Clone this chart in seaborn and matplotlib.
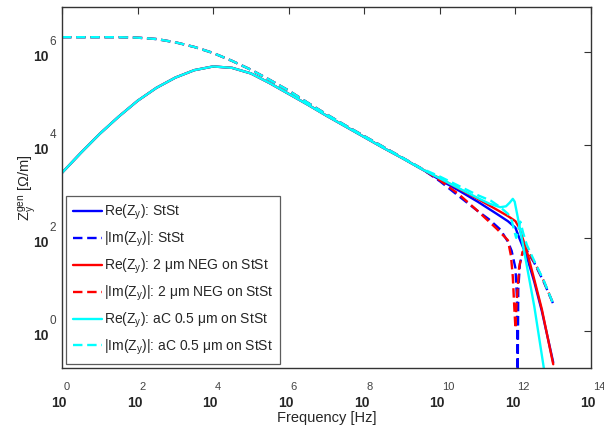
import numpy as np
import matplotlib
matplotlib.use("Agg")
import matplotlib.pyplot as plt
import seaborn as sns

# log10 of frequency [Hz] and log10 of |Z| [Ohm/m]
f_low = [0, 0.5, 1, 1.5, 2, 2.5, 3, 3.5, 4, 4.5, 5, 5.5, 6, 6.5, 7, 7.5, 8, 8.5, 9, 9.5]
re_low = [3.40, 3.83, 4.24, 4.61, 4.95, 5.23, 5.45, 5.61, 5.69, 5.66, 5.54, 5.33,
          5.10, 4.87, 4.63, 4.40, 4.17, 3.94, 3.72, 3.49]
im_low = [6.32, 6.32, 6.32, 6.32, 6.31, 6.28, 6.21, 6.11, 5.98, 5.81, 5.62, 5.40,
          5.17, 4.91, 4.66, 4.42, 4.19, 3.96, 3.73, 3.50]

# high-frequency tails, one per series
f_re_stst = [10, 10.5, 11, 11.5, 11.8, 12.0, 12.1, 12.3, 12.5, 12.7, 13.0]
re_stst = [3.25, 3.02, 2.78, 2.52, 2.36, 2.22, 2.00, 1.60, 1.05, 0.42, -0.68]

f_im_stst = [10, 10.5, 11, 11.3, 11.6, 11.8, 11.9, 12.0, 12.04, 12.06, 12.075,
             12.12, 12.2, 12.3, 12.5, 12.75, 13.0]
im_stst = [3.22, 2.90, 2.58, 2.40, 2.18, 1.92, 1.72, 1.35, 0.7, -1.0, 0.9,
           1.45, 1.70, 1.73, 1.46, 1.05, 0.58]

f_re_neg = [10, 10.5, 11, 11.5, 11.8, 12.0, 12.1, 12.3, 12.5, 12.7, 13.0]
re_neg = [3.28, 3.06, 2.84, 2.61, 2.47, 2.36, 2.22, 1.72, 1.10, 0.46, -0.72]

f_im_neg = [10, 10.5, 11, 11.5, 11.8, 11.88, 11.93, 11.97, 12.0, 12.03, 12.1,
            12.19, 12.3, 12.5, 12.75, 13.0]
im_neg = [3.24, 2.94, 2.58, 2.20, 1.95, 1.62, 1.17, 0.50, 0.05, 0.60, 1.38,
          1.70, 1.74, 1.48, 1.07, 0.58]

f_re_ac = [10, 10.5, 11, 11.3, 11.6, 11.75, 11.85, 11.93, 11.98, 12.06, 12.24,
           12.5, 12.77, 12.85]
re_ac = [3.28, 3.07, 2.86, 2.74, 2.66, 2.68, 2.76, 2.84, 2.78, 2.45, 1.67,
         0.52, -0.90, -1.30]

f_im_ac = [10, 10.5, 11, 11.35, 11.6, 11.8, 11.9, 11.97, 12.02, 12.08, 12.13,
           12.2, 12.3, 12.5, 12.75, 13.0]
im_ac = [3.32, 3.12, 2.92, 2.80, 2.66, 2.52, 2.38, 2.15, 2.00, 2.20, 2.35,
         2.12, 1.85, 1.50, 1.08, 0.58]

labels = [
    r"Re(Z$\mathregular{_y}$): StSt",
    r"|Im(Z$\mathregular{_y}$)|: StSt",
    "Re(Z$\\mathregular{_y}$): 2 \u03bcm NEG on StSt",
    "|Im(Z$\\mathregular{_y}$)|: 2 \u03bcm NEG on StSt",
    "Re(Z$\\mathregular{_y}$): aC 0.5 \u03bcm on StSt",
    "|Im(Z$\\mathregular{_y}$)|: aC 0.5 \u03bcm on StSt",
]
colors = ["#0000ff", "#0000ff", "#ff0000", "#ff0000", "#00ffff", "#00ffff"]
series = [
    (f_low + f_re_stst, re_low + re_stst),
    (f_low + f_im_stst, im_low + im_stst),
    (f_low + f_re_neg, re_low + re_neg),
    (f_low + f_im_neg, im_low + im_neg),
    (f_low + f_re_ac, re_low + re_ac),
    (f_low + f_im_ac, im_low + im_ac),
]

x_exp = [0, 2, 4, 6, 8, 10, 12, 14]
y_exp = [0, 2, 4, 6]

sns.set_style("white")
plt.rcParams["font.family"] = ["Liberation Sans", "DejaVu Sans"]

fig, ax = plt.subplots(figsize=(6.04, 4.26), dpi=100)
fig.subplots_adjust(left=0.1026, right=0.9785, bottom=0.1362, top=0.9836)

for i, (fx, zy) in enumerate(series):
    dashed = i % 2 == 1
    sns.lineplot(x=10.0 ** np.array(fx), y=10.0 ** np.array(zy), ax=ax,
                 color=colors[i], lw=1.7, sort=False, estimator=None,
                 label=labels[i], dashes=False,
                 linestyle=(0, (4, 2)) if dashed else "-")

ax.set_xscale("log")
ax.set_yscale("log")
ax.set_xlim(1, 1e14)
ax.set_ylim(10 ** -0.8, 10 ** 6.97)

ax.set_xticks([10.0 ** e for e in x_exp])
ax.set_yticks([10.0 ** e for e in y_exp])
ax.minorticks_off()
ax.tick_params(which="both", direction="in", length=5, width=0.8, color="#333333",
               top=True, right=True, labelbottom=False, labelleft=False)
for s in ax.spines.values():
    s.set_color("#333333")
    s.set_linewidth(1.0)

# MATLAB style tick labels: "10" with the exponent lifted to the upper right
for e in x_exp:
    ax.annotate("10", xy=(10.0 ** e, 0), xycoords=("data", "axes fraction"),
                xytext=(-2, -25), textcoords="offset points", ha="center",
                va="center", fontsize=10, fontweight="bold")
    ax.annotate(str(e), xy=(10.0 ** e, 0), xycoords=("data", "axes fraction"),
                xytext=(1.5, -13.5), textcoords="offset points", ha="left",
                va="center", fontsize=8, color="#444444")
for e in y_exp:
    ax.annotate("10", xy=(0, 10.0 ** e), xycoords=("axes fraction", "data"),
                xytext=(-9.5, -3.5), textcoords="offset points", ha="right",
                va="center", fontsize=10, fontweight="bold")
    ax.annotate(str(e), xy=(0, 10.0 ** e), xycoords=("axes fraction", "data"),
                xytext=(-9, 7), textcoords="offset points", ha="left",
                va="center", fontsize=8.5, color="#444444")

ax.set_xlabel("Frequency [Hz]", fontsize=10.5, labelpad=31)
ax.set_ylabel("Z$\\mathregular{^{gen}_y}$ [\u03a9/m]", fontsize=10.5, labelpad=17)

leg = ax.legend(loc="lower left", bbox_to_anchor=(0.008, 0.012), fontsize=10,
                handlelength=2.1, handletextpad=0.1, labelspacing=0.55,
                borderpad=0.5, frameon=True, fancybox=False, borderaxespad=0)
leg.get_frame().set_edgecolor("#333333")
leg.get_frame().set_linewidth(0.9)

plt.savefig("out.png", dpi=100)
